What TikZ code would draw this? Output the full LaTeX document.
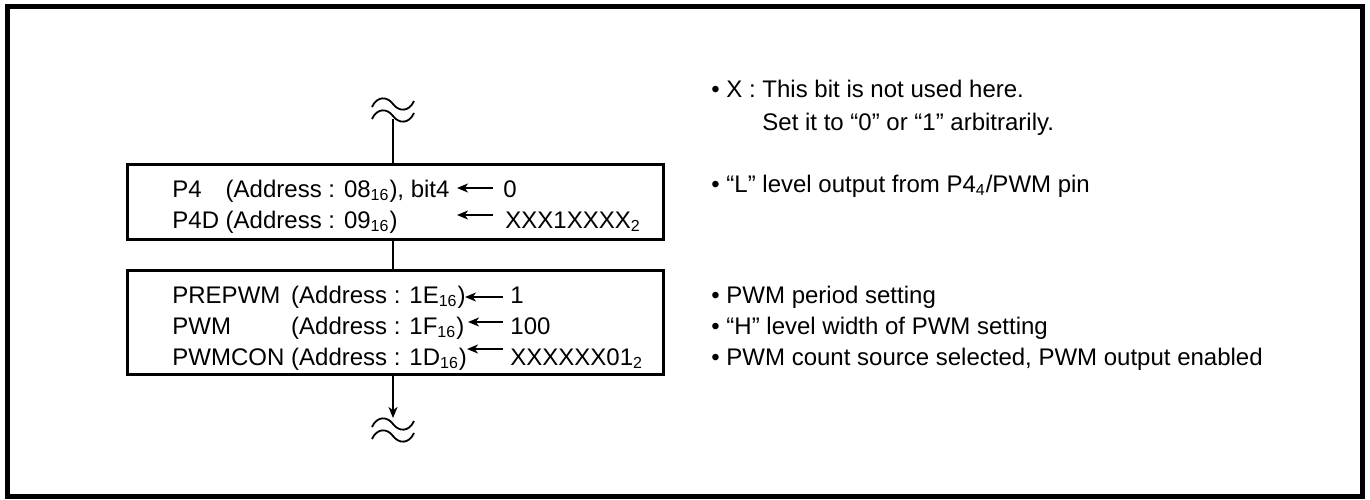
\documentclass[tikz,border=0pt]{standalone}
\usepackage{fontspec}
\setmainfont{Liberation Sans}
\usepackage{tikz}
\usetikzlibrary{arrows.meta,positioning}

\begin{document}
\begin{tikzpicture}[x=0.5pt,y=-0.5pt,
  txt/.style={anchor=base west, inner sep=0pt, font=\fontsize{12}{14}\selectfont},
  regbox/.style={draw, line width=1.5pt, minimum width=268pt, inner sep=0pt},
  link/.style={line width=0.9pt},
  setarrow/.style={line width=0.9pt, -{Stealth[length=5.5pt,width=4.5pt,inset=1.6pt]}},
  wave/.pic={\draw[line width=0.9pt] (-21,3) .. controls (-16,-8) and (-6,-8) .. (0,0) .. controls (6,8) and (16,8) .. (21,-3);}]
  \useasboundingbox (0,0) rectangle (1370,499);
  \draw[line width=2.5pt] (7,6) rectangle (1362,496);

  \pic (wt1) at (393,104) {wave};
  \pic (wt2) at (393,116) {wave};
  \coordinate (start) at (393,119);
  \node[regbox, minimum height=37.5pt] (box1) at (395,201.5) {};
  \node[regbox, minimum height=52pt] (box2) at (395,322) {};
  \coordinate (stop) at (393,418);
  \pic (wb1) at (393,424) {wave};
  \pic (wb2) at (393,436) {wave};

  \draw[link] (start) -- (start |- box1.north);
  \draw[link] (start |- box1.south) -- (start |- box2.north);
  \draw[setarrow] (start |- box2.south) -- (stop);

  \node[txt] (p4) at (172,197) {\makebox[2.223em][l]{P4}(Address : 08\textsubscript{16}), bit4};
  \node[txt] (p4d) at (172,228) {P4D (Address : 09\textsubscript{16})};
  \node[txt] (v1) at (503,197) {0};
  \node[txt] (v2) at (505,228) {XXX1XXXX\textsubscript{2}};
  \coordinate (e1) at (493,188);
  \coordinate (h1) at (457,188);
  \coordinate (e2) at (493,215);
  \coordinate (h2) at (457,215);
  \draw[setarrow] (e1) -- (h1);
  \draw[setarrow] (e2) -- (h2);

  \node[txt] (prepwm) at (172,303) {\makebox[4.95em][l]{PREPWM}(Address : 1E\textsubscript{16})};
  \node[txt] (pwm) at (172,334) {\makebox[4.95em][l]{PWM}(Address : 1F\textsubscript{16})};
  \node[txt] (pwmcon) at (172,365) {\makebox[4.95em][l]{PWMCON}(Address : 1D\textsubscript{16})};
  \node[txt] (v3) at (510,303) {1};
  \node[txt] (v4) at (510,334) {100};
  \node[txt] (v5) at (510,365) {XXXXXX01\textsubscript{2}};
  \coordinate (e3) at (503,297);
  \coordinate (h3) at (465,297);
  \coordinate (e4) at (503,322);
  \coordinate (h4) at (468,322);
  \coordinate (e5) at (503,349);
  \coordinate (h5) at (467,349);
  \draw[setarrow] (e3) -- (h3);
  \draw[setarrow] (e4) -- (h4);
  \draw[setarrow] (e5) -- (h5);

  \node[txt] (note1) at (711,97) {• X : This bit is not used here.};
  \node[txt] (note1b) at (762,130) {Set it to “0” or “1” arbitrarily.};
  \node[txt] (note2) at (711,192) {• “L” level output from P4\textsubscript{4}/PWM pin};
  \node[txt] (note3) at (711,303) {• PWM period setting};
  \node[txt] (note4) at (711,334) {• “H” level width of PWM setting};
  \node[txt] (note5) at (711,365) {• PWM count source selected, PWM output enabled};
\end{tikzpicture}
\end{document}
